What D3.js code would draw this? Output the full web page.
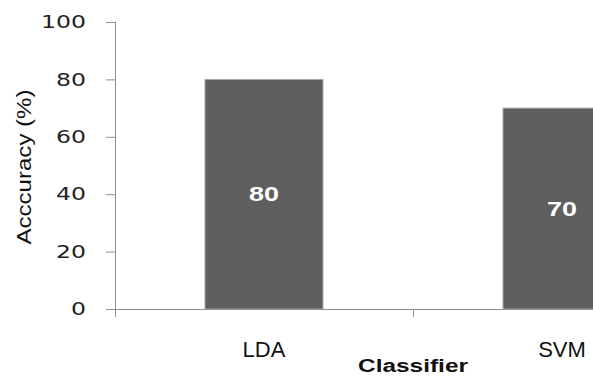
<!DOCTYPE html>
<html>
<head>
<meta charset="utf-8">
<script src="https://cdn.jsdelivr.net/npm/d3@7"></script>
<style>
  html, body { margin: 0; padding: 0; background: #fff; }
  svg { display: block; }
</style>
</head>
<body>
<svg id="chart" width="593" height="377"></svg>
<script>
// Classifier accuracy values
const categories = ["LDA", "SVM"];
const accuracy = [80, 70];
const yTicks = [0, 20, 40, 60, 80, 100];
const yTitle = "Acccuracy (%)";
const xTitle = "Classifier";

const svg = d3.select("#chart");
const axisColor = "#8e8e8e";
const barFill = "#5f5f5f";

const plot = { left: 115, top: 22, bottom: 309, right: 711 };

const y = d3.scaleLinear().domain([0, 100]).range([plot.bottom, plot.top]);
const x = d3.scaleBand()
  .domain(categories)
  .range([plot.left, plot.right])
  .paddingInner(0.604)
  .paddingOuter(0.302);

// Bars
svg.append("g").selectAll("rect")
  .data(categories)
  .join("rect")
  .attr("x", d => x(d))
  .attr("y", (d, i) => y(accuracy[i]))
  .attr("width", x.bandwidth())
  .attr("height", (d, i) => y(0) - y(accuracy[i]))
  .attr("fill", barFill)
  .attr("stroke", "#a8a8a8")
  .attr("stroke-width", 1);

// Value labels centred in each bar
svg.append("g").selectAll("text")
  .data(categories)
  .join("text")
  .attr("x", d => x(d) + x.bandwidth() / 2)
  .attr("y", (d, i) => y(accuracy[i] / 2))
  .attr("dy", "0.36em")
  .attr("text-anchor", "middle")
  .attr("font-family", "Liberation Sans, Arial, sans-serif")
  .attr("font-weight", "bold")
  .attr("font-size", 20)
  .attr("fill", "#ffffff")
  .attr("textLength", (d, i) => String(accuracy[i]).length * 15)
  .attr("lengthAdjust", "spacingAndGlyphs")
  .text((d, i) => accuracy[i]);

// Y axis
const yAxis = svg.append("g")
  .attr("transform", `translate(${plot.left},0)`)
  .call(d3.axisLeft(y).tickValues(yTicks).tickSize(9).tickPadding(20));
yAxis.select(".domain").remove();
yAxis.selectAll(".tick line").attr("stroke", axisColor);
yAxis.selectAll(".tick text")
  .attr("font-family", "DejaVu Sans, Verdana, sans-serif")
  .attr("font-size", 18)
  .attr("fill", "#222")
  .attr("textLength", d => String(d).length * 15)
  .attr("lengthAdjust", "spacingAndGlyphs");
svg.append("line")
  .attr("x1", plot.left + 0.5).attr("x2", plot.left + 0.5)
  .attr("y1", plot.top).attr("y2", plot.bottom + 8)
  .attr("stroke", axisColor);

// X axis line and category boundary ticks
svg.append("line")
  .attr("x1", plot.left).attr("x2", plot.right)
  .attr("y1", plot.bottom + 0.5).attr("y2", plot.bottom + 0.5)
  .attr("stroke", axisColor);
const boundaries = d3.range(categories.length + 1).map(i => plot.left + i * x.step());
svg.append("g").selectAll("line")
  .data(boundaries)
  .join("line")
  .attr("x1", d => Math.round(d) + 0.5).attr("x2", d => Math.round(d) + 0.5)
  .attr("y1", plot.bottom).attr("y2", plot.bottom + 8)
  .attr("stroke", axisColor);

// Category labels
svg.append("g").selectAll("text")
  .data(categories)
  .join("text")
  .attr("x", d => x(d) + x.bandwidth() / 2)
  .attr("y", 357)
  .attr("text-anchor", "middle")
  .attr("font-family", "Liberation Sans, Arial, sans-serif")
  .attr("font-size", 22)
  .attr("fill", "#111")
  .text(d => d);

// Axis titles
svg.append("text")
  .attr("x", (plot.left + plot.right) / 2)
  .attr("y", 372)
  .attr("text-anchor", "middle")
  .attr("font-family", "Liberation Sans, Arial, sans-serif")
  .attr("font-weight", "bold")
  .attr("font-size", 18)
  .attr("fill", "#111")
  .attr("textLength", 110)
  .attr("lengthAdjust", "spacingAndGlyphs")
  .text(xTitle);

svg.append("text")
  .attr("transform", "translate(31,167) rotate(-90)")
  .attr("text-anchor", "middle")
  .attr("font-family", "Liberation Sans, Arial, sans-serif")
  .attr("font-size", 20)
  .attr("fill", "#111")
  .attr("textLength", 155)
  .attr("lengthAdjust", "spacingAndGlyphs")
  .text(yTitle);
</script>
</body>
</html>
